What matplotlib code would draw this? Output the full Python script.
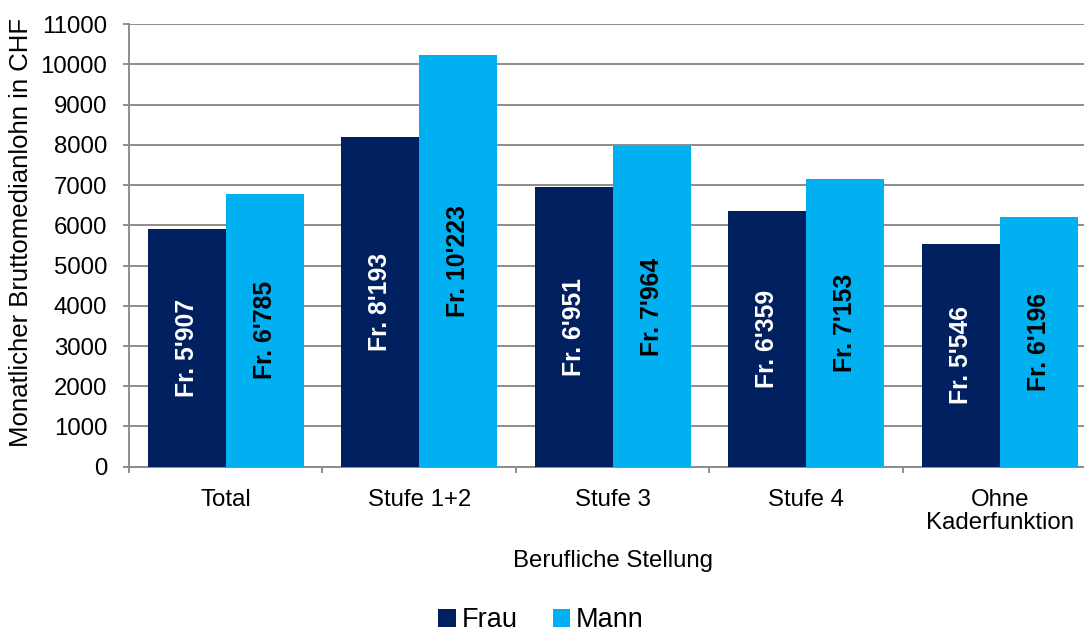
import matplotlib

matplotlib.use("Agg")
import matplotlib.pyplot as plt
import numpy as np

plt.rcParams.update({"font.family": ["Liberation Sans", "DejaVu Sans"], "font.size": 17.3})

categories = ["Total", "Stufe 1+2", "Stufe 3", "Stufe 4", "Ohne\nKaderfunktion"]
frau = [5907, 8193, 6951, 6359, 5546]
mann = [6785, 10223, 7964, 7153, 6196]
series = ["Frau", "Mann"]

NAVY = "#002060"
LIGHT = "#00B0F0"
GRID = "#8c8c8c"


def chf(v):
    s = f"{v:,}".replace(",", "'")
    return f"Fr. {s}"


fig = plt.figure(figsize=(10.84, 6.35), dpi=100)
# plot area runs a little past the right edge of the figure
ax = fig.add_axes([0.119, 0.265, 0.8925, 0.697])

x = np.arange(len(categories))
w = 0.403
b1 = ax.bar(x - w / 2, frau, w, color=NAVY, label=series[0], zorder=3)
b2 = ax.bar(x + w / 2, mann, w, color=LIGHT, label=series[1], zorder=3)

for bars, vals, col in [(b1, frau, "white"), (b2, mann, "black")]:
    for b, v in zip(bars, vals):
        ax.text(b.get_x() + b.get_width() / 2, v / 2, chf(v), rotation=90,
                ha="center", va="center", color=col, fontweight="bold",
                fontsize=17.8, zorder=4)

ax.set_xlim(-0.5, len(categories) - 0.5)
ax.set_ylim(0, 11000)
ax.set_yticks(range(0, 11001, 1000))
ax.yaxis.grid(True, color=GRID, lw=1.4, zorder=0)
ax.set_xticks(x)
ax.set_xticklabels(categories, linespacing=1.05)
ax.set_xticks(np.arange(-0.5, len(categories)), minor=True)
ax.tick_params(axis="x", which="major", length=0, pad=16)
ax.tick_params(axis="x", which="minor", length=4.5, color=GRID, width=1.4)
ax.tick_params(axis="y", length=4.5, color=GRID, width=1.4, pad=11)

for s in ["top", "right"]:
    ax.spines[s].set_visible(False)
for s in ["left", "bottom"]:
    ax.spines[s].set_color(GRID)
    ax.spines[s].set_linewidth(1.4)

ax.set_ylabel("Monatlicher Bruttomedianlohn in CHF", fontsize=18.5)
ax.yaxis.set_label_coords(-0.099, 0.53)
ax.set_xlabel("Berufliche Stellung", labelpad=12)

fig.legend(handles=[b1, b2], labels=series, loc="lower center",
           bbox_to_anchor=(0.499, -0.036), ncol=2, frameon=False,
           handlelength=0.65, handleheight=0.65, handletextpad=0.2,
           columnspacing=1.3, fontsize=19.5)

fig.savefig("out.png", dpi=100)
